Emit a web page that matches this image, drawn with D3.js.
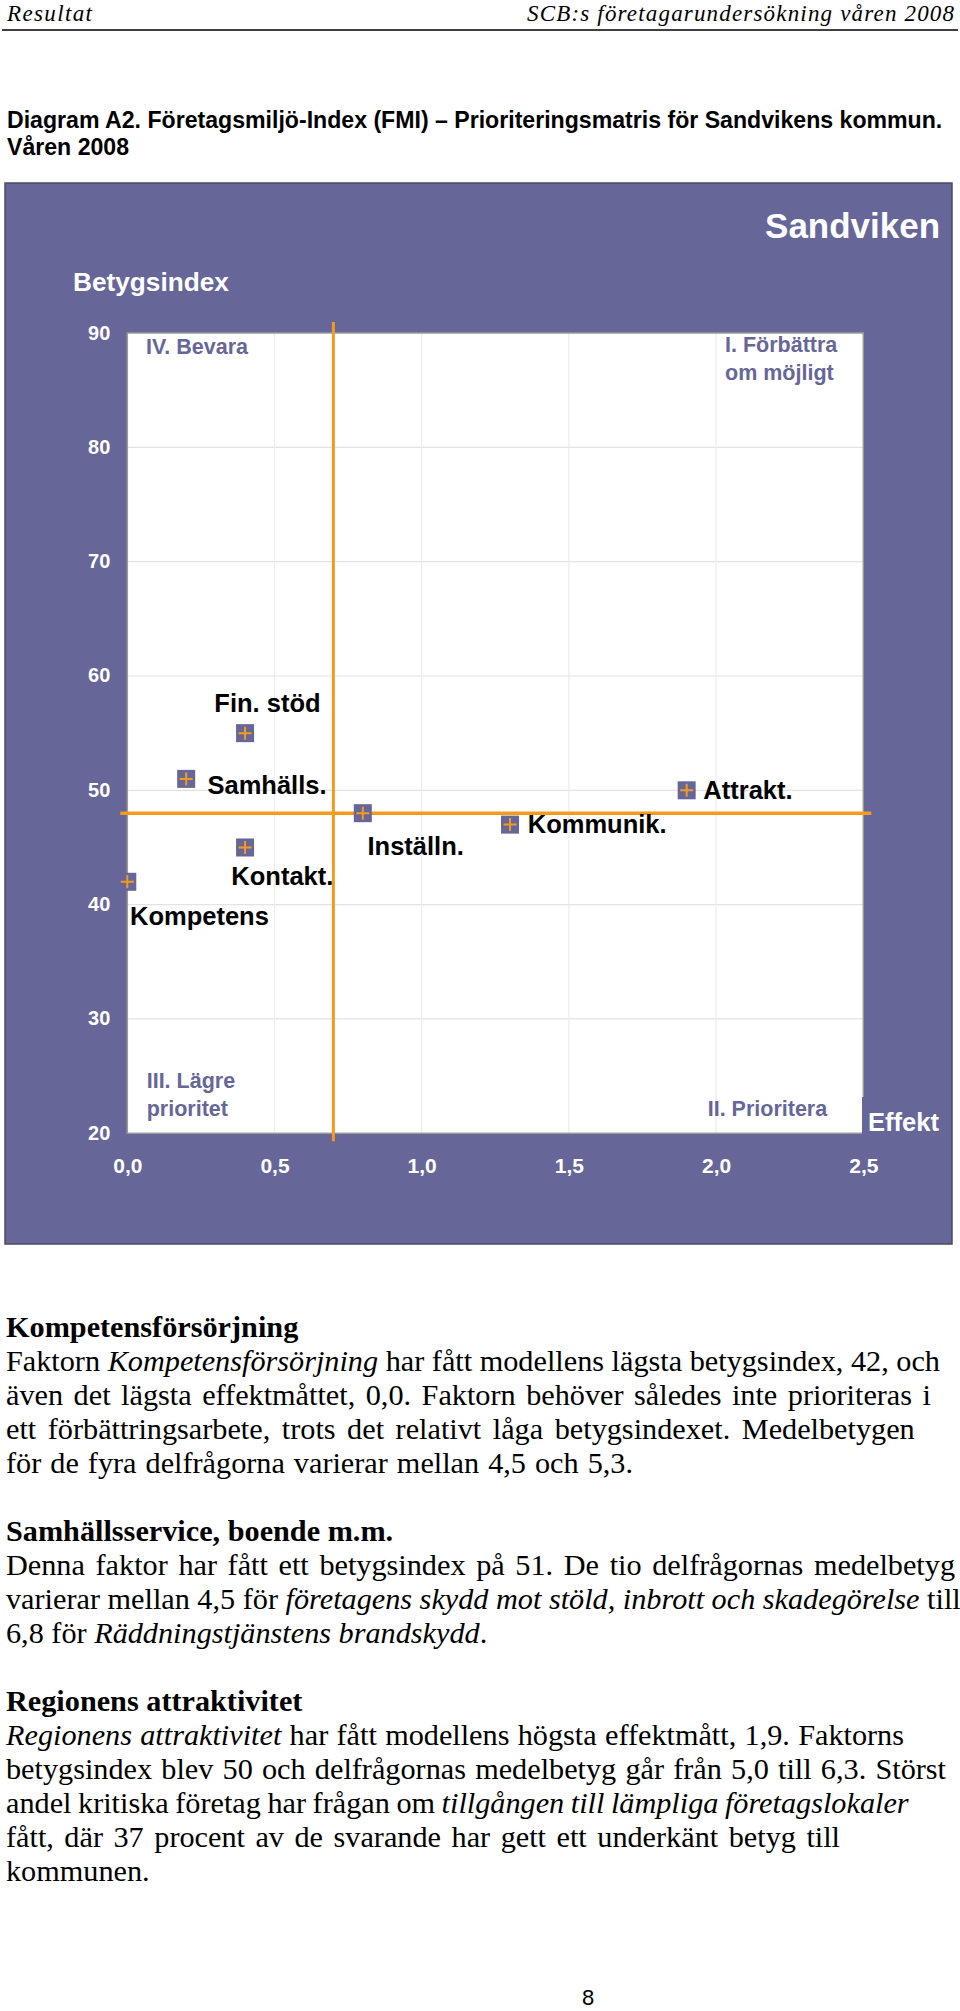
<!DOCTYPE html>
<html><head><meta charset="utf-8">
<script src="https://cdn.jsdelivr.net/npm/d3@7"></script>
<style>body{margin:0;background:#fff}svg{display:block}</style>
</head><body>
<script>
// ---- data ----
const categories = ["Fin. stöd","Samhälls.","Inställn.","Kontakt.","Kompetens","Kommunik.","Attrakt."];
const effekt = [0.4, 0.2, 0.8, 0.4, 0.0, 1.3, 1.9];
const betygsindex = [55, 51, 48, 45, 42, 47, 50];
const xTicks = [0, 0.5, 1.0, 1.5, 2.0, 2.5];
const xTickLabels = ["0,0","0,5","1,0","1,5","2,0","2,5"];
const yTicks = [20, 30, 40, 50, 60, 70, 80, 90];
const thresholdEffekt = 0.7;
const thresholdIndex = 48;
const quadrantLabels = [["IV. Bevara"], ["I. Förbättra","om möjligt"], ["III. Lägre","prioritet"], ["II. Prioritera"]];
const headerLeft = "Resultat";
const headerRight = "SCB:s företagarundersökning våren 2008";
const titleLines = ["Diagram A2. Företagsmiljö-Index (FMI) – Prioriteringsmatris för Sandvikens kommun.", "Våren 2008"];
// body text: each line is a list of [text, italic?]
const bodyLines = [
  {h:"Kompetensförsörjning"},
  [["Faktorn ",0],["Kompetensförsörjning",1],[" har fått modellens lägsta betygsindex, 42, och",0]],
  [["även det lägsta effektmåttet, 0,0. Faktorn behöver således inte prioriteras i",0]],
  [["ett förbättringsarbete, trots det relativt låga betygsindexet. Medelbetygen",0]],
  [["för de fyra delfrågorna varierar mellan 4,5 och 5,3.",0]],
  null,
  {h:"Samhällsservice, boende m.m."},
  [["Denna faktor har fått ett betygsindex på 51. De tio delfrågornas medelbetyg",0]],
  [["varierar mellan 4,5 för ",0],["företagens skydd mot stöld, inbrott och skadegörelse",1],[" till",0]],
  [["6,8 för ",0],["Räddningstjänstens brandskydd",1],[".",0]],
  null,
  {h:"Regionens attraktivitet"},
  [["Regionens attraktivitet",1],[" har fått modellens högsta effektmått, 1,9. Faktorns",0]],
  [["betygsindex blev 50 och delfrågornas medelbetyg går från 5,0 till 6,3. Störst",0]],
  [["andel kritiska företag har frågan om ",0],["tillgången till lämpliga företagslokaler",1]],
  [["fått, där 37 procent av de svarande har gett ett underkänt betyg till",0]],
  [["kommunen.",0]]
];
const pageNumber = "8";

// ---- styles ----
const PURPLE = "#666699", ORANGE = "#f39b1e";
const SANS = "'Liberation Sans', Arial, sans-serif";
const SERIF = "'Liberation Serif', 'Times New Roman', serif";
const labelOffsets = [[-30.7,-21],[21.3,15],[4.7,42],[-13.7,37.3],[2.7,43.6],[17.7,8.7],[16.7,8.6]];
// target rendered widths (px) of body lines, matching the reference's wrapping
const bodyWidths = [0, 934, 925, 915, 627, 0, 0, 949, 0, 0, 0, 0, 898, 940, 894, 834, 0];

const svg = d3.select("body").append("svg").attr("width",960).attr("height",2011);

function fit(sel, w){
  const l = sel.node().getComputedTextLength();
  const fs = parseFloat(sel.attr("font-size"));
  sel.attr("font-size", fs*w/l);
  return fs*w/l;
}

// header
svg.append("text").attr("x",7).attr("y",21).attr("font-family",SERIF).attr("font-style","italic")
  .attr("font-size",23).attr("textLength",85).attr("lengthAdjust","spacing").text(headerLeft);
svg.append("text").attr("x",527).attr("y",21).attr("font-family",SERIF)
  .attr("font-style","italic").attr("font-size",23).attr("textLength",427).attr("lengthAdjust","spacing").text(headerRight);
svg.append("line").attr("x1",2).attr("x2",958).attr("y1",30).attr("y2",30).attr("stroke","#000").attr("stroke-width",1.5);

// title
const t1 = svg.append("text").attr("x",7).attr("y",128).attr("font-family",SANS).attr("font-weight","bold")
  .attr("font-size",23).text(titleLines[0]);
const tfs = fit(t1, 936);
svg.append("text").attr("x",7).attr("y",155).attr("font-family",SANS).attr("font-weight","bold")
  .attr("font-size",tfs).text(titleLines[1]);

// chart panel
svg.append("rect").attr("x",5).attr("y",183).attr("width",947).attr("height",1061)
  .attr("fill",PURPLE).attr("stroke","#4a4a66").attr("stroke-width",1.5);

const x = d3.scaleLinear().domain([0,2.5]).range([127.3,863.3]);
const y = d3.scaleLinear().domain([20,90]).range([1133.3,333]);

svg.append("rect").attr("x",x(0)).attr("y",y(90)).attr("width",x(2.5)-x(0)).attr("height",y(20)-y(90))
  .attr("fill","#fff");

// gridlines
svg.append("g").selectAll("line").data(yTicks.filter(v=>v>20 && v<90)).join("line")
  .attr("x1",x(0)).attr("x2",x(2.5)).attr("y1",d=>y(d)).attr("y2",d=>y(d))
  .attr("stroke","#e3e3e3").attr("stroke-width",1.2);
svg.append("g").selectAll("line").data(xTicks.filter(v=>v>0 && v<2.5)).join("line")
  .attr("y1",y(20)).attr("y2",y(90)).attr("x1",d=>x(d)).attr("x2",d=>x(d))
  .attr("stroke","#ececec").attr("stroke-width",1.2);

// plot border
svg.append("rect").attr("x",x(0)).attr("y",y(90)).attr("width",x(2.5)-x(0)).attr("height",y(20)-y(90))
  .attr("fill","none").attr("stroke","#9a9a9a").attr("stroke-width",1.5);

// axes
const yAxis = svg.append("g").attr("transform",`translate(${x(0)},0)`)
  .call(d3.axisLeft(y).tickValues(yTicks).tickSize(0).tickPadding(17));
yAxis.select(".domain").remove();
yAxis.selectAll("text").attr("font-family",SANS).attr("font-weight","bold").attr("font-size",20)
  .attr("fill","#fff").attr("dy","0.3em");

const xAxis = svg.append("g").attr("transform",`translate(0,${y(20)})`)
  .call(d3.axisBottom(x).tickValues(xTicks).tickFormat((d,i)=>xTickLabels[i]).tickSize(0));
xAxis.select(".domain").remove();
xAxis.selectAll("text").attr("font-family",SANS).attr("font-weight","bold").attr("font-size",21)
  .attr("fill","#fff").attr("y",40).attr("dy",0);

// axis titles
fit(svg.append("text").attr("x",73).attr("y",291).attr("font-family",SANS).attr("font-weight","bold")
  .attr("font-size",26).attr("fill","#fff").text("Betygsindex"), 156);
fit(svg.append("text").attr("x",940).attr("y",238).attr("text-anchor","end").attr("font-family",SANS)
  .attr("font-weight","bold").attr("font-size",36).attr("fill","#fff").text("Sandviken"), 175);
svg.append("rect").attr("x",862).attr("y",1097).attr("width",84).attr("height",y(20)-1097+1).attr("fill",PURPLE);
fit(svg.append("text").attr("x",868).attr("y",1131).attr("font-family",SANS).attr("font-weight","bold")
  .attr("font-size",25).attr("fill","#fff").text("Effekt"), 71);

// quadrant labels
const qPos = [[146,354],[725,352],[146.7,1088],[707.7,1116]];
quadrantLabels.forEach((lines,i)=>{
  const t = svg.append("text").attr("font-family",SANS).attr("font-weight","bold").attr("font-size",21.5)
    .attr("fill",PURPLE);
  lines.forEach((s,j)=>t.append("tspan").attr("x",qPos[i][0]).attr("y",qPos[i][1]+j*28).text(s));
});

// threshold lines
svg.append("line").attr("x1",x(0)-7).attr("x2",x(2.5)+8).attr("y1",y(thresholdIndex)).attr("y2",y(thresholdIndex))
  .attr("stroke",ORANGE).attr("stroke-width",3.5);
svg.append("line").attr("x1",x(thresholdEffekt)).attr("x2",x(thresholdEffekt)).attr("y1",y(90)-11).attr("y2",y(20)+8)
  .attr("stroke",ORANGE).attr("stroke-width",3);

// points
const pts = categories.map((c,i)=>({c, ex:effekt[i], bi:betygsindex[i], off:labelOffsets[i]}));
const g = svg.append("g");
const m = g.selectAll("g.pt").data(pts).join("g").attr("class","pt")
  .attr("transform",d=>`translate(${x(d.ex)},${y(d.bi)})`);
m.append("rect").attr("x",-9).attr("y",-9).attr("width",18).attr("height",18).attr("fill",PURPLE);
m.append("path").attr("d","M-6.5,0H6.5M0,-6.5V6.5").attr("stroke",ORANGE).attr("stroke-width",2);
g.selectAll("text.lbl").data(pts).join("text").attr("class","lbl")
  .attr("x",d=>x(d.ex)+d.off[0]).attr("y",d=>y(d.bi)+d.off[1])
  .attr("font-family",SANS).attr("font-weight","bold").attr("font-size",25.5).attr("fill","#000")
  .text(d=>d.c);

// body text
const LH = 34, B0 = 1337;
let fsBody = 22;
(function(){
  const t = svg.append("text").attr("font-family",SERIF).attr("font-size",22);
  bodyLines[1].forEach(([s,it])=>t.append("tspan").attr("font-style",it?"italic":"normal").text(s));
  const l = t.node().getComputedTextLength();
  fsBody = 22*934/l;
  t.remove();
})();
bodyLines.forEach((ln,i)=>{
  if(!ln) return;
  const yy = B0 + i*LH;
  const t = svg.append("text").attr("x",6).attr("y",yy).attr("font-family",SERIF).attr("font-size",fsBody).attr("fill","#000");
  if(ln.h){ t.attr("font-weight","bold").text(ln.h); return; }
  ln.forEach(([s,it])=>t.append("tspan").attr("font-style",it?"italic":"normal").text(s));
  const target = bodyWidths[i];
  if(target){
    const nat = t.node().getComputedTextLength();
    const spaces = ln.map(p=>p[0]).join("").split(" ").length - 1;
    if(spaces>0) t.attr("word-spacing", Math.max(-1, Math.min(4, (target-nat)/spaces)));
  }
});

svg.append("text").attr("x",588).attr("y",2005).attr("text-anchor","middle").attr("font-family",SANS)
  .attr("font-size",22).text(pageNumber);
</script>
</body></html>
